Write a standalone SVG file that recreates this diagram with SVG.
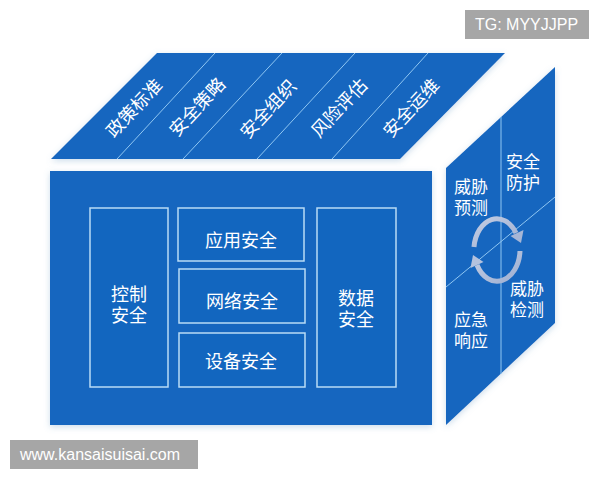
<svg xmlns="http://www.w3.org/2000/svg" width="600" height="480" viewBox="0 0 600 480">
<defs>
<filter id="sh" x="-10%" y="-10%" width="120%" height="120%">
<feDropShadow dx="0" dy="2" stdDeviation="3" flood-color="#6f9cc8" flood-opacity="0.35"/>
</filter>
<linearGradient id="arr" x1="0" y1="0" x2="1" y2="1">
<stop offset="0" stop-color="#c3cde3"/>
<stop offset="1" stop-color="#9fb0d2"/>
</linearGradient>
</defs>
<style>
.face{fill:#1266bf;}
.div{stroke:#8fc6f2;stroke-width:1;fill:none;}
.box{fill:#1266bf;stroke:#b9dcf6;stroke-width:1.5;}
.t{font-family:"Noto Sans CJK SC","Noto Sans",sans-serif;fill:#ffffff;text-anchor:middle;dominant-baseline:central;}
.f18{font-size:18px;}
.f17{font-size:17px;}
.wm{fill:#a6a6a6;}
.wmt{font-family:"Liberation Sans",Arial,sans-serif;font-size:16px;fill:#ffffff;}
.arc{fill:none;stroke:url(#arr);stroke-width:5;}
</style>
<rect width="600" height="480" fill="#ffffff"/>

<g id="top-face">
<polygon class="face" filter="url(#sh)" points="157,53 505,53 400,159 51,159"/>
<g id="top-dividers">
<line class="div" x1="215" y1="53" x2="117" y2="159"/>
<line class="div" x1="282" y1="53" x2="183" y2="159"/>
<line class="div" x1="355" y1="53" x2="257" y2="159"/>
<line class="div" x1="428" y1="53" x2="332" y2="159"/>
</g>
<text class="t f18" transform="rotate(-47 133 107)" x="133" y="107">政策标准</text>
<text class="t f18" transform="rotate(-47 196 106)" x="196" y="106">安全策略</text>
<text class="t f18" transform="rotate(-47 267 108)" x="267" y="108">安全组织</text>
<text class="t f18" transform="rotate(-47 338 107)" x="338" y="107">风险评估</text>
<text class="t f18" transform="rotate(-47 410 107)" x="410" y="107">安全运维</text>
</g>

<g id="front-face">
<rect class="face" filter="url(#sh)" x="50" y="171" width="382" height="254"/>
</g>
<g id="control">
<rect class="box" x="90" y="208" width="78" height="179"/>
<text class="t f18"><tspan x="129" y="293">控制</tspan><tspan x="129" y="314">安全</tspan></text>
</g>
<g id="app">
<rect class="box" x="178" y="208" width="126" height="53"/>
<text class="t f18" x="241" y="239">应用安全</text>
</g>
<g id="network">
<rect class="box" x="179" y="269" width="126" height="54"/>
<text class="t f18" x="242" y="300">网络安全</text>
</g>
<g id="device">
<rect class="box" x="179" y="333" width="126" height="54"/>
<text class="t f18" x="241" y="360">设备安全</text>
</g>
<g id="data">
<rect class="box" x="317" y="208" width="79" height="179"/>
<text class="t f18"><tspan x="356" y="297">数据</tspan><tspan x="356" y="318">安全</tspan></text>
</g>

<g id="side-face">
<polygon class="face" filter="url(#sh)" points="446,168 555,67 555,323 446,425"/>
<line class="div" x1="501" y1="117" x2="501" y2="374"/>
<line class="div" x1="446" y1="287" x2="555" y2="197"/>
</g>
<g id="protect">
<text class="t f17"><tspan x="523" y="160">安全</tspan><tspan x="523" y="181">防护</tspan></text>
</g>
<g id="predict">
<text class="t f17"><tspan x="471" y="185">威胁</tspan><tspan x="471" y="206">预测</tspan></text>
</g>
<g id="detect">
<text class="t f17"><tspan x="527" y="287">威胁</tspan><tspan x="527" y="308">检测</tspan></text>
</g>
<g id="response">
<text class="t f17"><tspan x="471" y="318">应急</tspan><tspan x="471" y="339">响应</tspan></text>
</g>

<g id="connectors">
<path class="arc" d="M 474 247 A 23 32 0 0 1 516 233"/>
<polygon fill="#a6b6d6" points="521,243 510.5,236 523.5,230"/>
<path class="arc" d="M 520 251 A 23 32 0 0 1 477 265"/>
<polygon fill="#b4c2de" points="473,255 483.5,262 470.5,268"/>
</g>

<g id="watermarks">
<rect class="wm" x="465" y="10" width="124" height="29"/>
<text class="wmt" x="475" y="30">TG: MYYJJPP</text>
<rect class="wm" x="10" y="440" width="188" height="29"/>
<text class="wmt" x="20" y="460">www.kansaisuisai.com</text>
</g>
</svg>
